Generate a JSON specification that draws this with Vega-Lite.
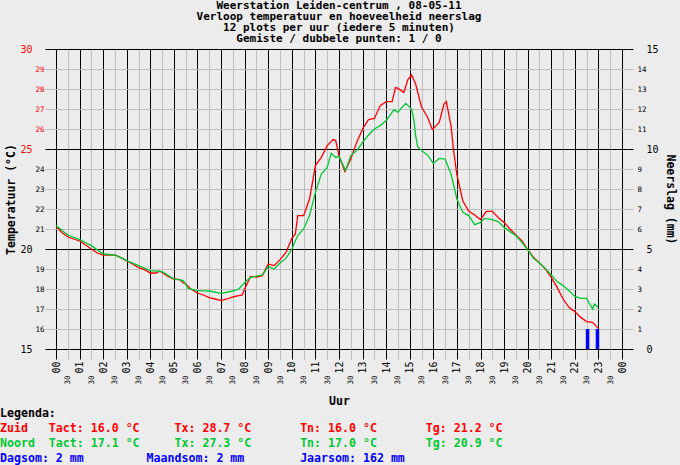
{
  "$schema": "https://vega.github.io/schema/vega-lite/v6.json",
  "background": "#ececec",
  "padding": {"left": 0, "top": 0, "right": 4, "bottom": 0},
  "spacing": 1,
  "resolve": {"scale": {"color": "independent"}},
  "datasets": {
    "temp": [
      {"uur": 0.00, "station": "Zuid", "t": 21.13},
      {"uur": 0.25, "station": "Zuid", "t": 20.83},
      {"uur": 0.50, "station": "Zuid", "t": 20.60},
      {"uur": 0.75, "station": "Zuid", "t": 20.50},
      {"uur": 1.00, "station": "Zuid", "t": 20.40},
      {"uur": 1.25, "station": "Zuid", "t": 20.20},
      {"uur": 1.50, "station": "Zuid", "t": 20.00},
      {"uur": 1.75, "station": "Zuid", "t": 19.80},
      {"uur": 2.00, "station": "Zuid", "t": 19.70},
      {"uur": 2.50, "station": "Zuid", "t": 19.70},
      {"uur": 2.75, "station": "Zuid", "t": 19.57},
      {"uur": 3.00, "station": "Zuid", "t": 19.40},
      {"uur": 3.25, "station": "Zuid", "t": 19.25},
      {"uur": 3.50, "station": "Zuid", "t": 19.07},
      {"uur": 3.75, "station": "Zuid", "t": 18.97},
      {"uur": 4.00, "station": "Zuid", "t": 18.80},
      {"uur": 4.25, "station": "Zuid", "t": 18.80},
      {"uur": 4.40, "station": "Zuid", "t": 18.90},
      {"uur": 4.75, "station": "Zuid", "t": 18.63},
      {"uur": 5.00, "station": "Zuid", "t": 18.50},
      {"uur": 5.25, "station": "Zuid", "t": 18.47},
      {"uur": 5.40, "station": "Zuid", "t": 18.30},
      {"uur": 5.50, "station": "Zuid", "t": 18.25},
      {"uur": 5.75, "station": "Zuid", "t": 17.97},
      {"uur": 6.00, "station": "Zuid", "t": 17.80},
      {"uur": 6.25, "station": "Zuid", "t": 17.70},
      {"uur": 6.50, "station": "Zuid", "t": 17.57},
      {"uur": 6.75, "station": "Zuid", "t": 17.50},
      {"uur": 7.00, "station": "Zuid", "t": 17.42},
      {"uur": 7.25, "station": "Zuid", "t": 17.50},
      {"uur": 7.50, "station": "Zuid", "t": 17.60},
      {"uur": 7.75, "station": "Zuid", "t": 17.67},
      {"uur": 7.90, "station": "Zuid", "t": 17.70},
      {"uur": 8.00, "station": "Zuid", "t": 18.00},
      {"uur": 8.25, "station": "Zuid", "t": 18.63},
      {"uur": 8.50, "station": "Zuid", "t": 18.60},
      {"uur": 8.75, "station": "Zuid", "t": 18.67},
      {"uur": 9.00, "station": "Zuid", "t": 19.25},
      {"uur": 9.25, "station": "Zuid", "t": 19.17},
      {"uur": 9.50, "station": "Zuid", "t": 19.47},
      {"uur": 9.75, "station": "Zuid", "t": 19.83},
      {"uur": 10.00, "station": "Zuid", "t": 20.53},
      {"uur": 10.15, "station": "Zuid", "t": 20.75},
      {"uur": 10.25, "station": "Zuid", "t": 21.67},
      {"uur": 10.50, "station": "Zuid", "t": 21.67},
      {"uur": 10.75, "station": "Zuid", "t": 22.50},
      {"uur": 11.00, "station": "Zuid", "t": 24.17},
      {"uur": 11.25, "station": "Zuid", "t": 24.58},
      {"uur": 11.50, "station": "Zuid", "t": 25.17},
      {"uur": 11.75, "station": "Zuid", "t": 25.47},
      {"uur": 11.86, "station": "Zuid", "t": 25.42},
      {"uur": 12.00, "station": "Zuid", "t": 24.67},
      {"uur": 12.25, "station": "Zuid", "t": 23.87},
      {"uur": 12.50, "station": "Zuid", "t": 24.50},
      {"uur": 12.75, "station": "Zuid", "t": 25.33},
      {"uur": 13.00, "station": "Zuid", "t": 26.00},
      {"uur": 13.25, "station": "Zuid", "t": 26.47},
      {"uur": 13.50, "station": "Zuid", "t": 26.53},
      {"uur": 13.75, "station": "Zuid", "t": 27.17},
      {"uur": 14.00, "station": "Zuid", "t": 27.37},
      {"uur": 14.25, "station": "Zuid", "t": 27.37},
      {"uur": 14.40, "station": "Zuid", "t": 28.08},
      {"uur": 14.50, "station": "Zuid", "t": 28.03},
      {"uur": 14.75, "station": "Zuid", "t": 27.83},
      {"uur": 14.92, "station": "Zuid", "t": 28.47},
      {"uur": 15.08, "station": "Zuid", "t": 28.70},
      {"uur": 15.25, "station": "Zuid", "t": 28.25},
      {"uur": 15.50, "station": "Zuid", "t": 27.10},
      {"uur": 15.75, "station": "Zuid", "t": 26.60},
      {"uur": 15.96, "station": "Zuid", "t": 25.97},
      {"uur": 16.25, "station": "Zuid", "t": 26.33},
      {"uur": 16.45, "station": "Zuid", "t": 27.25},
      {"uur": 16.55, "station": "Zuid", "t": 27.37},
      {"uur": 16.75, "station": "Zuid", "t": 26.17},
      {"uur": 16.85, "station": "Zuid", "t": 25.00},
      {"uur": 17.00, "station": "Zuid", "t": 23.70},
      {"uur": 17.25, "station": "Zuid", "t": 22.40},
      {"uur": 17.50, "station": "Zuid", "t": 21.90},
      {"uur": 17.75, "station": "Zuid", "t": 21.70},
      {"uur": 18.00, "station": "Zuid", "t": 21.47},
      {"uur": 18.25, "station": "Zuid", "t": 21.88},
      {"uur": 18.50, "station": "Zuid", "t": 21.88},
      {"uur": 18.75, "station": "Zuid", "t": 21.58},
      {"uur": 19.00, "station": "Zuid", "t": 21.33},
      {"uur": 19.25, "station": "Zuid", "t": 21.00},
      {"uur": 19.50, "station": "Zuid", "t": 20.70},
      {"uur": 19.75, "station": "Zuid", "t": 20.42},
      {"uur": 20.00, "station": "Zuid", "t": 19.97},
      {"uur": 20.25, "station": "Zuid", "t": 19.58},
      {"uur": 20.50, "station": "Zuid", "t": 19.30},
      {"uur": 20.75, "station": "Zuid", "t": 19.00},
      {"uur": 21.00, "station": "Zuid", "t": 18.58},
      {"uur": 21.25, "station": "Zuid", "t": 18.08},
      {"uur": 21.50, "station": "Zuid", "t": 17.50},
      {"uur": 21.75, "station": "Zuid", "t": 17.08},
      {"uur": 22.00, "station": "Zuid", "t": 16.87},
      {"uur": 22.25, "station": "Zuid", "t": 16.58},
      {"uur": 22.50, "station": "Zuid", "t": 16.37},
      {"uur": 22.75, "station": "Zuid", "t": 16.33},
      {"uur": 23.00, "station": "Zuid", "t": 16.03},
      {"uur": 0.00, "station": "Noord", "t": 21.17},
      {"uur": 0.50, "station": "Noord", "t": 20.70},
      {"uur": 1.00, "station": "Noord", "t": 20.47},
      {"uur": 1.50, "station": "Noord", "t": 20.17},
      {"uur": 2.00, "station": "Noord", "t": 19.75},
      {"uur": 2.50, "station": "Noord", "t": 19.70},
      {"uur": 3.00, "station": "Noord", "t": 19.42},
      {"uur": 3.50, "station": "Noord", "t": 19.17},
      {"uur": 4.00, "station": "Noord", "t": 18.92},
      {"uur": 4.50, "station": "Noord", "t": 18.87},
      {"uur": 5.00, "station": "Noord", "t": 18.50},
      {"uur": 5.40, "station": "Noord", "t": 18.42},
      {"uur": 5.60, "station": "Noord", "t": 18.03},
      {"uur": 6.00, "station": "Noord", "t": 17.92},
      {"uur": 6.50, "station": "Noord", "t": 17.90},
      {"uur": 7.00, "station": "Noord", "t": 17.78},
      {"uur": 7.50, "station": "Noord", "t": 17.90},
      {"uur": 7.75, "station": "Noord", "t": 18.00},
      {"uur": 8.00, "station": "Noord", "t": 18.33},
      {"uur": 8.25, "station": "Noord", "t": 18.58},
      {"uur": 8.75, "station": "Noord", "t": 18.70},
      {"uur": 9.00, "station": "Noord", "t": 19.13},
      {"uur": 9.25, "station": "Noord", "t": 19.00},
      {"uur": 9.50, "station": "Noord", "t": 19.30},
      {"uur": 9.75, "station": "Noord", "t": 19.53},
      {"uur": 10.00, "station": "Noord", "t": 20.00},
      {"uur": 10.25, "station": "Noord", "t": 20.67},
      {"uur": 10.50, "station": "Noord", "t": 21.00},
      {"uur": 10.75, "station": "Noord", "t": 21.67},
      {"uur": 11.00, "station": "Noord", "t": 22.83},
      {"uur": 11.25, "station": "Noord", "t": 23.75},
      {"uur": 11.50, "station": "Noord", "t": 24.08},
      {"uur": 11.67, "station": "Noord", "t": 24.78},
      {"uur": 11.86, "station": "Noord", "t": 24.58},
      {"uur": 12.00, "station": "Noord", "t": 24.63},
      {"uur": 12.28, "station": "Noord", "t": 23.92},
      {"uur": 12.50, "station": "Noord", "t": 24.67},
      {"uur": 12.75, "station": "Noord", "t": 24.92},
      {"uur": 13.00, "station": "Noord", "t": 25.33},
      {"uur": 13.25, "station": "Noord", "t": 25.70},
      {"uur": 13.50, "station": "Noord", "t": 26.00},
      {"uur": 13.75, "station": "Noord", "t": 26.17},
      {"uur": 14.00, "station": "Noord", "t": 26.42},
      {"uur": 14.33, "station": "Noord", "t": 26.97},
      {"uur": 14.50, "station": "Noord", "t": 26.83},
      {"uur": 14.67, "station": "Noord", "t": 27.08},
      {"uur": 14.83, "station": "Noord", "t": 27.28},
      {"uur": 15.08, "station": "Noord", "t": 27.00},
      {"uur": 15.17, "station": "Noord", "t": 26.50},
      {"uur": 15.25, "station": "Noord", "t": 25.67},
      {"uur": 15.33, "station": "Noord", "t": 25.13},
      {"uur": 15.50, "station": "Noord", "t": 24.92},
      {"uur": 15.75, "station": "Noord", "t": 24.70},
      {"uur": 16.00, "station": "Noord", "t": 24.28},
      {"uur": 16.25, "station": "Noord", "t": 24.53},
      {"uur": 16.50, "station": "Noord", "t": 24.50},
      {"uur": 16.75, "station": "Noord", "t": 23.75},
      {"uur": 17.00, "station": "Noord", "t": 22.50},
      {"uur": 17.25, "station": "Noord", "t": 21.83},
      {"uur": 17.50, "station": "Noord", "t": 21.67},
      {"uur": 17.75, "station": "Noord", "t": 21.22},
      {"uur": 18.00, "station": "Noord", "t": 21.33},
      {"uur": 18.17, "station": "Noord", "t": 21.53},
      {"uur": 18.50, "station": "Noord", "t": 21.47},
      {"uur": 18.75, "station": "Noord", "t": 21.37},
      {"uur": 19.00, "station": "Noord", "t": 21.08},
      {"uur": 19.25, "station": "Noord", "t": 20.87},
      {"uur": 19.50, "station": "Noord", "t": 20.67},
      {"uur": 19.75, "station": "Noord", "t": 20.33},
      {"uur": 20.00, "station": "Noord", "t": 19.97},
      {"uur": 20.25, "station": "Noord", "t": 19.53},
      {"uur": 20.50, "station": "Noord", "t": 19.30},
      {"uur": 20.75, "station": "Noord", "t": 19.03},
      {"uur": 21.00, "station": "Noord", "t": 18.70},
      {"uur": 21.25, "station": "Noord", "t": 18.37},
      {"uur": 21.50, "station": "Noord", "t": 18.17},
      {"uur": 21.75, "station": "Noord", "t": 17.92},
      {"uur": 22.00, "station": "Noord", "t": 17.63},
      {"uur": 22.25, "station": "Noord", "t": 17.53},
      {"uur": 22.50, "station": "Noord", "t": 17.53},
      {"uur": 22.75, "station": "Noord", "t": 17.00},
      {"uur": 22.83, "station": "Noord", "t": 17.25},
      {"uur": 23.00, "station": "Noord", "t": 17.08}
    ],
    "regen": [
      {"uur": 22.54, "mm": 1},
      {"uur": 22.96, "mm": 1}
    ],
    "legenda": [
      {"blok": "a", "rij": "Legenda", "tekst": "Legenda:"},
      {"blok": "a", "rij": "Zuid", "tekst": "Zuid\u00a0\u00a0\u00a0Tact: 16.0 °C\u00a0\u00a0\u00a0\u00a0\u00a0Tx: 28.7 °C\u00a0\u00a0\u00a0\u00a0\u00a0\u00a0\u00a0Tn: 16.0 °C\u00a0\u00a0\u00a0\u00a0\u00a0\u00a0\u00a0Tg: 21.2 °C"},
      {"blok": "a", "rij": "Noord", "tekst": "Noord\u00a0\u00a0Tact: 17.1 °C\u00a0\u00a0\u00a0\u00a0\u00a0Tx: 27.3 °C\u00a0\u00a0\u00a0\u00a0\u00a0\u00a0\u00a0Tn: 17.0 °C\u00a0\u00a0\u00a0\u00a0\u00a0\u00a0\u00a0Tg: 20.9 °C"},
      {"blok": "a", "rij": "Neerslag", "tekst": "Dagsom: 2 mm\u00a0\u00a0\u00a0\u00a0\u00a0\u00a0\u00a0\u00a0\u00a0Maandsom: 2 mm\u00a0\u00a0\u00a0\u00a0\u00a0\u00a0\u00a0\u00a0Jaarsom: 162 mm"}
    ]
  },
  "vconcat": [
    {
      "width": 576,
      "height": 300,
      "title": {
        "text": [
          "Weerstation Leiden-centrum , 08-05-11",
          "Verloop temperatuur en hoeveelheid neerslag",
          "12 plots per uur (iedere 5 minuten)",
          "Gemiste / dubbele punten: 1 / 0"
        ],
        "font": "DejaVu Sans Mono",
        "fontSize": 11,
        "fontWeight": "bold",
        "lineHeight": 11,
        "color": "#000000",
        "anchor": "middle",
        "frame": "group",
        "offset": 0
      },
      "encoding": {
        "x": {
          "field": "uur",
          "type": "quantitative",
          "scale": {"domain": [0, 24], "nice": false, "zero": false},
          "axis": {
            "values": [0, 0.5, 1, 1.5, 2, 2.5, 3, 3.5, 4, 4.5, 5, 5.5, 6, 6.5, 7, 7.5, 8, 8.5, 9, 9.5, 10, 10.5, 11, 11.5, 12, 12.5, 13, 13.5, 14, 14.5, 15, 15.5, 16, 16.5, 17, 17.5, 18, 18.5, 19, 19.5, 20, 20.5, 21, 21.5, 22, 22.5, 23, 23.5, 24],
            "grid": true,
            "gridColor": {"condition": {"test": "datum.value % 1 === 0", "value": "#000000"}, "value": "#bebebe"},
            "tickColor": {"condition": {"test": "datum.value % 1 === 0", "value": "#000000"}, "value": "#bebebe"},
            "tickSize": 10,
            "domain": false,
            "labelAngle": 270,
            "labelExpr": "datum.value % 1 === 0 ? (datum.value === 24 ? '00' : (datum.value < 10 ? '0' : '') + datum.value) : '30'",
            "labelFontSize": {"condition": {"test": "datum.value % 1 === 0", "value": 10}, "value": 7.5},
            "labelPadding": {"condition": {"test": "datum.value % 1 === 0", "value": 2}, "value": 16},
            "labelFlush": false,
            "labelOverlap": false,
            "title": "Uur",
            "titlePadding": 11
          }
        }
      },
      "layer": [
        {
          "data": {"name": "temp"},
          "mark": {"type": "line", "strokeWidth": 1.3},
          "encoding": {
            "y": {
              "field": "t",
              "type": "quantitative",
              "scale": {"domain": [15, 30], "nice": false, "zero": false},
              "axis": {
                "values": [15, 16, 17, 18, 19, 20, 21, 22, 23, 24, 25, 26, 27, 28, 29, 30],
                "grid": true,
                "gridColor": {"condition": {"test": "datum.value % 5 === 0", "value": "#000000"}, "value": "#bebebe"},
                "tickColor": {"condition": {"test": "datum.value % 5 === 0", "value": "#000000"}, "value": "#bebebe"},
                "tickSize": 6,
                "domain": false,
                "labelColor": {"condition": {"test": "datum.value >= 25", "value": "#ff0000"}, "value": "#000000"},
                "labelFontSize": {"condition": {"test": "datum.value % 5 === 0", "value": 10}, "value": 7.5},
                "labelPadding": {"condition": {"test": "datum.value % 5 === 0", "value": 13}, "value": 1},
                "labelFlush": false,
                "labelOverlap": false,
                "title": "Temperatuur (°C)",
                "titlePadding": 3
              }
            },
            "color": {
              "field": "station",
              "type": "nominal",
              "scale": {"domain": ["Zuid", "Noord"], "range": ["#ff0000", "#00c832"]},
              "legend": null
            }
          }
        },
        {
          "data": {"name": "regen"},
          "mark": {"type": "bar", "width": 3.5, "color": "#0000ff"},
          "encoding": {
            "y": {
              "field": "mm",
              "type": "quantitative",
              "scale": {"domain": [0, 15], "nice": false},
              "axis": {
                "orient": "right",
                "values": [0, 1, 2, 3, 4, 5, 6, 7, 8, 9, 10, 11, 12, 13, 14, 15],
                "grid": false,
                "tickColor": {"condition": {"test": "datum.value % 5 === 0", "value": "#000000"}, "value": "#bebebe"},
                "tickSize": 6,
                "domain": false,
                "labelColor": "#000000",
                "labelFontSize": {"condition": {"test": "datum.value % 5 === 0", "value": 10}, "value": 7.5},
                "labelPadding": {"condition": {"test": "datum.value % 5 === 0", "value": 13}, "value": 4},
                "labelFlush": false,
                "labelOverlap": false,
                "title": "Neerslag (mm)",
                "titlePadding": 6
              }
            }
          }
        }
      ],
      "resolve": {"scale": {"y": "independent"}}
    },
    {
      "width": 576,
      "height": 45,
      "data": {"name": "legenda"},
      "mark": {
        "type": "text",
        "align": "left",
        "baseline": "middle",
        "dx": -51,
        "font": "DejaVu Sans Mono",
        "fontSize": 11.6,
        "fontWeight": "bold"
      },
      "encoding": {
        "x": {
          "field": "blok",
          "type": "nominal",
          "scale": {"type": "point", "padding": 0, "align": 0},
          "axis": null
        },
        "y": {
          "field": "rij",
          "type": "nominal",
          "scale": {"type": "point", "domain": ["Legenda", "Zuid", "Noord", "Neerslag"], "padding": 0},
          "axis": null
        },
        "text": {"field": "tekst"},
        "color": {
          "field": "rij",
          "type": "nominal",
          "scale": {"domain": ["Legenda", "Zuid", "Noord", "Neerslag"], "range": ["#000000", "#ff0000", "#00c832", "#0000ff"]},
          "legend": null
        }
      }
    }
  ],
  "config": {
    "view": {"stroke": null},
    "axis": {
      "labelFont": "DejaVu Sans Mono",
      "labelColor": "#000000",
      "titleFont": "DejaVu Sans Mono",
      "titleFontSize": 11.5,
      "titleFontWeight": "bold",
      "titleColor": "#000000",
      "tickWidth": 1,
      "gridWidth": 1
    }
  }
}
